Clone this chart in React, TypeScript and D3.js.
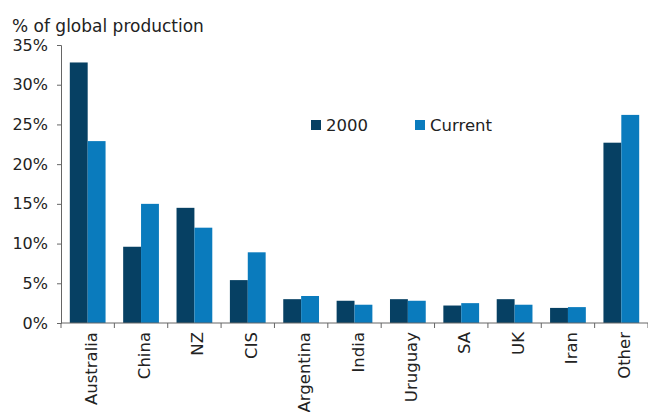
import { useEffect, useRef } from "react";
import * as d3 from "d3";

const categories = ["Australia", "China", "NZ", "CIS", "Argentina", "India", "Uruguay", "SA", "UK", "Iran", "Other"];
const values2000 = [32.8, 9.6, 14.5, 5.4, 3.0, 2.8, 3.0, 2.2, 3.0, 1.9, 22.7];
const valuesCurrent = [22.9, 15.0, 12.0, 8.9, 3.4, 2.3, 2.8, 2.5, 2.3, 2.0, 26.2];
const yTicks = [0, 5, 10, 15, 20, 25, 30, 35];
const seriesNames = ["2000", "Current"];
const colors = ["#064063", "#0a7bbd"];

export default function App() {
  const ref = useRef<SVGSVGElement>(null);

  useEffect(() => {
    const svg = d3.select(ref.current);
    svg.selectAll("*").remove();

    const width = 648;
    const height = 412;
    const margin = { top: 45, right: 0, bottom: 89, left: 61 };
    const font = "DejaVu Sans, Verdana, sans-serif";

    const x = d3
      .scaleBand()
      .domain(categories)
      .range([margin.left, width - margin.right])
      .paddingInner(0.33)
      .paddingOuter(0.165);

    const y = d3
      .scaleLinear()
      .domain([0, 35])
      .range([height - margin.bottom, margin.top]);

    const xs = d3.scaleBand().domain(seriesNames).range([0, x.bandwidth()]);

    const rows = categories.map((c, i) => ({ c, vals: [values2000[i], valuesCurrent[i]] }));

    const g = svg
      .selectAll("g.grp")
      .data(rows)
      .enter()
      .append("g")
      .attr("transform", (d) => `translate(${x(d.c)},0)`);

    g.selectAll("rect")
      .data((d) => d.vals.map((v, j) => ({ v, j })))
      .enter()
      .append("rect")
      .attr("x", (d) => xs(seriesNames[d.j])!)
      .attr("y", (d) => y(d.v))
      .attr("width", xs.bandwidth())
      .attr("height", (d) => y(0) - y(d.v))
      .attr("fill", (d) => colors[d.j]);

    // y axis
    const yAxis = svg
      .append("g")
      .attr("transform", `translate(${margin.left},0)`)
      .call(d3.axisLeft(y).tickValues(yTicks).tickSize(4).tickFormat((d) => `${d}%`));
    yAxis.select(".domain").attr("stroke", "#666");
    yAxis.selectAll(".tick line").attr("stroke", "#666");
    yAxis
      .selectAll(".tick text")
      .attr("x", -13)
      .attr("fill", "#222")
      .style("font-family", font)
      .style("font-size", "16px");

    // x axis with ticks at band boundaries
    const step = x.step();
    const boundaries = d3.range(categories.length + 1).map((i) => margin.left + i * step);
    const xAxis = svg.append("g");
    xAxis
      .append("line")
      .attr("x1", margin.left)
      .attr("x2", width)
      .attr("y1", y(0))
      .attr("y2", y(0))
      .attr("stroke", "#666");
    xAxis
      .selectAll("line.tk")
      .data(boundaries)
      .enter()
      .append("line")
      .attr("x1", (d) => d)
      .attr("x2", (d) => d)
      .attr("y1", y(0))
      .attr("y2", y(0) + 5)
      .attr("stroke", "#666");
    xAxis
      .selectAll("text")
      .data(categories)
      .enter()
      .append("text")
      .attr("transform", (d) => `translate(${x(d)! + x.bandwidth() / 2 + 9},${y(0) + 9}) rotate(-90)`)
      .attr("text-anchor", "end")
      .attr("fill", "#222")
      .style("font-family", font)
      .style("font-size", "16.5px")
      .text((d) => d);

    // title
    svg
      .append("text")
      .attr("x", 12)
      .attr("y", 32)
      .attr("fill", "#222")
      .style("font-family", font)
      .style("font-size", "17px")
      .text("% of global production");

    // legend
    const legendX = [311, 415];
    const leg = svg
      .selectAll("g.leg")
      .data(seriesNames)
      .enter()
      .append("g")
      .attr("transform", (_d, i) => `translate(${legendX[i]},120)`);
    leg
      .append("rect")
      .attr("width", 10)
      .attr("height", 10)
      .attr("fill", (_d, i) => colors[i]);
    leg
      .append("text")
      .attr("x", 15)
      .attr("y", 11)
      .attr("fill", "#222")
      .style("font-family", font)
      .style("font-size", "16.5px")
      .text((d) => d);
  }, []);

  return (
    <svg
      ref={ref}
      width={648}
      height={412}
      style={{ position: "absolute", left: 0, top: 0, background: "#fff" }}
    />
  );
}
